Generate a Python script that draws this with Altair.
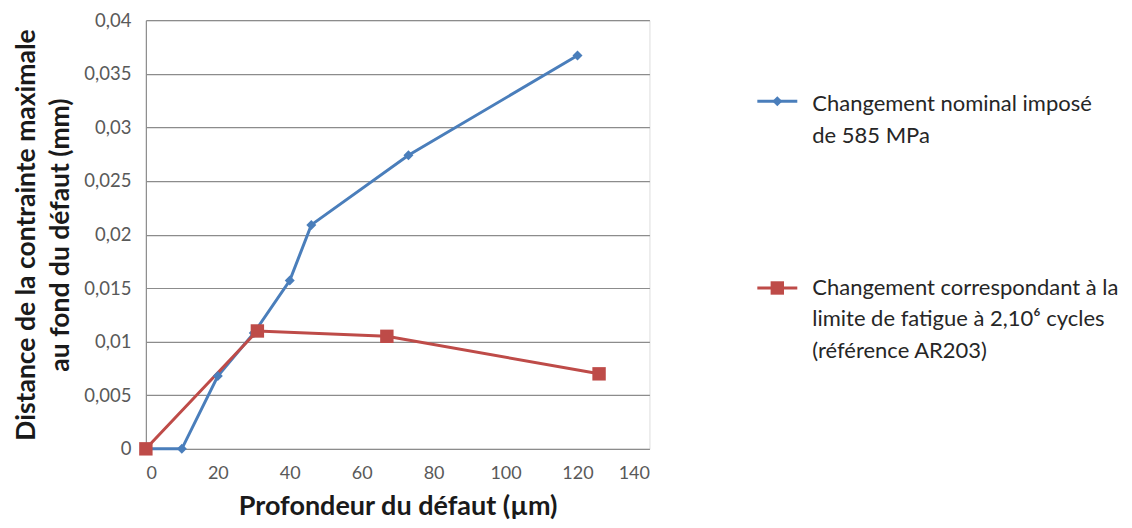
import altair as alt
import pandas as pd

series_names = ["Changement nominal imposé de 585 MPa",
                "Changement correspondant à la limite de fatigue"]
blue_x = [0, 10, 20, 30, 40, 46, 73, 120]
blue_y = [0, 0, 0.0068, 0.0108, 0.0157, 0.0209, 0.0274, 0.0367]
red_x = [0, 31, 67, 126]
red_y = [0, 0.011, 0.0105, 0.007]

x_ticks = [0, 20, 40, 60, 80, 100, 120, 140]
y_ticks = [0, 0.005, 0.01, 0.015, 0.02, 0.025, 0.03, 0.035, 0.04]

legend_lines_blue = ["Changement nominal imposé", "de 585 MPa"]
legend_lines_red = ["Changement correspondant à la",
                    "limite de fatigue à 2,10⁶ cycles",
                    "(référence AR203)"]

BLUE = "#4a7ebb"
RED = "#be4b48"
FONT = "Lato"

rows = []
for i, (x, y) in enumerate(zip(blue_x, blue_y)):
    rows.append({"x": x, "y": y, "s": series_names[0], "o": i})
for i, (x, y) in enumerate(zip(red_x, red_y)):
    rows.append({"x": x, "y": y, "s": series_names[1], "o": i})
df = pd.DataFrame(rows)

color = alt.Color("s:N", scale=alt.Scale(domain=series_names, range=[BLUE, RED]), legend=None)

xenc = alt.X("x:Q", scale=alt.Scale(domain=[0, 140], nice=False),
             axis=alt.Axis(values=x_ticks, grid=False, domain=False, ticks=False,
                           labelFont=FONT, labelFontSize=18, labelColor="#595959",
                           labelPadding=16,
                           title="Profondeur du défaut (µm)", titleFont=FONT,
                           titleFontSize=27, titleFontWeight="bold", titleColor="#1a1a1a",
                           titlePadding=11))
yenc = alt.Y("y:Q", scale=alt.Scale(domain=[0, 0.04], nice=False),
             axis=alt.Axis(values=y_ticks, grid=True, gridColor="#8c8c8c", gridWidth=1.2,
                           domain=True, domainColor="#8c8c8c", domainWidth=1.2, ticks=False,
                           labelExpr="replace(format(datum.value, '.3~f'), '.', ',')",
                           labelFont=FONT, labelFontSize=18.5, labelColor="#595959",
                           labelPadding=15,
                           title=["Distance de la contrainte maximale", "au fond du défaut (mm)"],
                           titleFont=FONT, titleFontSize=26.5, titleFontWeight="bold",
                           titleColor="#1a1a1a", titlePadding=9, titleLineHeight=34))

base = alt.Chart(df)
lines = base.mark_line(strokeWidth=3).encode(x=xenc, y=yenc, color=color, detail="s:N", order="o:Q")
pts_blue = base.transform_filter(alt.datum.s == series_names[0]).mark_point(
    shape="diamond", filled=True, size=100, opacity=1, color=BLUE).encode(x="x:Q", y="y:Q")
pts_red = base.transform_filter(alt.datum.s == series_names[1]).mark_point(
    shape="square", filled=True, size=180, opacity=1, color=RED).encode(x="x:Q", y="y:Q")

# Manual legend
leg_df = pd.DataFrame({"k": [0]})
leg = alt.Chart(leg_df)
leg_blue_line = leg.mark_rule(color=BLUE, strokeWidth=3).encode(
    x=alt.value(612), x2=alt.value(652), y=alt.value(81))
leg_blue_pt = leg.mark_point(shape="diamond", filled=True, size=100, opacity=1, color=BLUE).encode(
    x=alt.value(632), y=alt.value(81))
leg_red_line = leg.mark_rule(color=RED, strokeWidth=3).encode(
    x=alt.value(612), x2=alt.value(652), y=alt.value(268))
leg_red_pt = leg.mark_point(shape="square", filled=True, size=180, opacity=1, color=RED).encode(
    x=alt.value(632), y=alt.value(268))

texts = []
for i, t in enumerate(legend_lines_blue):
    texts.append(leg.mark_text(text=t, align="left", baseline="middle", font=FONT,
                               fontSize=22, color="#262626").encode(
        x=alt.value(667), y=alt.value(84 + 32 * i)))
for i, t in enumerate(legend_lines_red):
    texts.append(leg.mark_text(text=t, align="left", baseline="middle", font=FONT,
                               fontSize=22, color="#262626").encode(
        x=alt.value(667), y=alt.value(268 + 31.5 * i)))

chart = alt.layer(lines, pts_blue, pts_red, leg_blue_line, leg_blue_pt, leg_red_line,
                  leg_red_pt, *texts).properties(
    width=504, height=429,
    padding={"left": 5, "top": 3, "right": 5, "bottom": 5}).configure_view(
    stroke=None).configure(background="white")

chart.save("out.html", embed_options={"renderer": "svg", "actions": False})
